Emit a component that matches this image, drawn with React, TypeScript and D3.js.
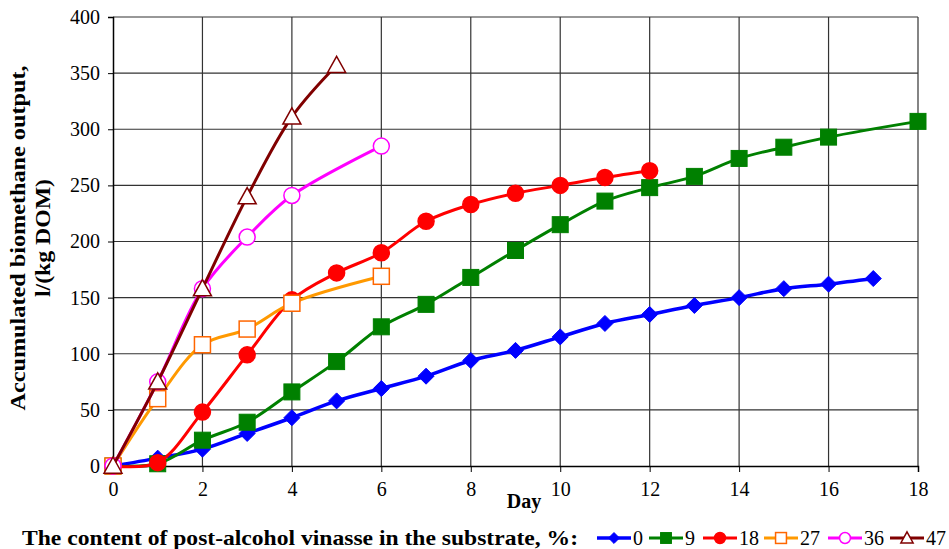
import * as d3 from 'd3'
import React, { useRef, useEffect } from 'react'

// values (day -> accumulated output)
const days0 = [0, 1, 2, 3, 4, 5, 6, 7, 8, 9, 10, 11, 12, 13, 14, 15, 16, 17]
const vals0 = [0, 7, 15, 29, 43, 58, 69, 80, 94, 103, 115, 127, 135, 143, 150, 158, 162, 167]
const days9 = [0, 1, 2, 3, 4, 5, 6, 7, 8, 9, 10, 11, 12, 13, 14, 15, 16, 18]
const vals9 = [0, 2, 23, 39, 66, 93, 124, 144, 168, 192, 215, 236, 248, 258, 274, 284, 293, 307]
const days18 = [0, 1, 2, 3, 4, 5, 6, 7, 8, 9, 10, 11, 12]
const vals18 = [0, 3, 48, 99, 148, 172, 190, 218, 233, 243, 250, 257, 263]
const days27 = [0, 1, 2, 3, 4, 6]
const vals27 = [0, 60, 108, 122, 145, 169]
const days36 = [0, 1, 2, 3, 4, 6]
const vals36 = [0, 75, 158, 204, 241, 285]
const days47 = [0, 1, 2, 3, 4, 5]
const vals47 = [0, 75, 158, 240, 311, 357]

const xTicks = [0, 2, 4, 6, 8, 10, 12, 14, 16, 18]
const yTicks = [0, 50, 100, 150, 200, 250, 300, 350, 400]

type Series = { name: string, days: number[], vals: number[], line: string, fill: string, stroke: string, shape: string, lw: number }

const series: Series[] = [
  { name: '0', days: days0, vals: vals0, line: '#0000ff', fill: '#0000ff', stroke: '#0000ff', shape: 'diamond', lw: 3.5 },
  { name: '9', days: days9, vals: vals9, line: '#008000', fill: '#008000', stroke: '#008000', shape: 'square', lw: 3 },
  { name: '18', days: days18, vals: vals18, line: '#ff0000', fill: '#ff0000', stroke: '#ff0000', shape: 'circle', lw: 3 },
  { name: '27', days: days27, vals: vals27, line: '#ff9900', fill: '#ffffff', stroke: '#ff6600', shape: 'square', lw: 3 },
  { name: '36', days: days36, vals: vals36, line: '#ff00ff', fill: '#ffffff', stroke: '#ff00ff', shape: 'circle', lw: 3 },
  { name: '47', days: days47, vals: vals47, line: '#800000', fill: '#ffffff', stroke: '#800000', shape: 'triangle', lw: 3 },
]

const W = 949
const H = 549
const serif = '"Liberation Serif", "DejaVu Serif", serif'

function marker(g: d3.Selection<SVGGElement, unknown, null, undefined>, s: Series, x: number, y: number, k = 1) {
  if (s.shape === 'diamond') {
    const r = 8 * k
    g.append('path').attr('d', `M${x},${y - r}L${x + r},${y}L${x},${y + r}L${x - r},${y}Z`)
      .attr('fill', s.fill).attr('stroke', s.stroke).attr('stroke-width', 1)
  } else if (s.shape === 'square') {
    const r = 8 * k
    g.append('rect').attr('x', x - r).attr('y', y - r).attr('width', 2 * r).attr('height', 2 * r)
      .attr('fill', s.fill).attr('stroke', s.stroke).attr('stroke-width', s.fill === '#ffffff' ? 1.5 : 1)
  } else if (s.shape === 'circle') {
    g.append('circle').attr('cx', x).attr('cy', y).attr('r', 8 * k)
      .attr('fill', s.fill).attr('stroke', s.stroke).attr('stroke-width', 1.5)
  } else {
    const r = 9 * k
    g.append('path').attr('d', `M${x},${y - r}L${x + r},${y + r * 0.8}L${x - r},${y + r * 0.8}Z`)
      .attr('fill', s.fill).attr('stroke', s.stroke).attr('stroke-width', 1.5)
  }
}

export default function App() {
  const svgRef = useRef(null)

  useEffect(() => {
    const svg = d3.select(svgRef.current)
    svg.selectAll('*').remove()

    const x = d3.scaleLinear().domain([0, 18]).range([113, 918])
    const y = d3.scaleLinear().domain([0, 400]).range([466, 17])

    const grid = svg.append('g')
    grid.selectAll('line.v').data(xTicks.slice(1)).join('line')
      .attr('x1', (d) => x(d)).attr('x2', (d) => x(d)).attr('y1', y(0)).attr('y2', y(400))
      .attr('stroke', '#333').attr('stroke-width', 1.2)
    grid.selectAll('line.h').data(yTicks.slice(1)).join('line')
      .attr('x1', x(0)).attr('x2', x(18)).attr('y1', (d) => y(d)).attr('y2', (d) => y(d))
      .attr('stroke', '#333').attr('stroke-width', 1.2)

    const yAxis = svg.append('g').attr('transform', `translate(${x(0)},0)`)
      .call(d3.axisLeft(y).tickValues(yTicks).tickSize(5).tickPadding(8))
    const xAxis = svg.append('g').attr('transform', `translate(0,${y(0)})`)
      .call(d3.axisBottom(x).tickValues(xTicks).tickSize(6).tickPadding(10))
    for (const a of [xAxis, yAxis]) {
      a.select('.domain').attr('stroke', '#000').attr('stroke-width', 1.5)
      a.selectAll('.tick line').attr('stroke', '#000')
      a.selectAll('text').attr('font-family', serif).attr('font-size', 20).attr('fill', '#000')
    }

    const line = d3.line<[number, number]>()
      .x((d) => x(d[0])).y((d) => y(d[1]))
      .curve(d3.curveCatmullRom.alpha(0.5))

    for (const s of series) {
      const g = svg.append('g')
      const pts: [number, number][] = s.days.map((d, i) => [d, s.vals[i]])
      g.append('path').attr('d', line(pts)).attr('fill', 'none')
        .attr('stroke', s.line).attr('stroke-width', s.lw)
      pts.forEach((p) => marker(g, s, x(p[0]), y(p[1])))
    }

    svg.append('text').text('Day').attr('x', 524).attr('y', 508)
      .attr('text-anchor', 'middle').attr('font-family', serif)
      .attr('font-weight', 'bold').attr('font-size', 20)

    const yt = svg.append('text').attr('transform', 'translate(25,238) rotate(-90)')
      .attr('text-anchor', 'middle').attr('font-family', serif)
      .attr('font-weight', 'bold').attr('font-size', 22)
    yt.append('tspan').attr('x', 0).attr('dy', 0).attr('textLength', 345)
      .attr('lengthAdjust', 'spacingAndGlyphs').text('Accumulated biomethane output,')
    yt.append('tspan').attr('x', 0).attr('dy', 25).attr('textLength', 118)
      .attr('lengthAdjust', 'spacingAndGlyphs').text('l/(kg DOM)')

    const ly = 538
    svg.append('text').text('The content of post-alcohol vinasse in the substrate, %:')
      .attr('x', 22).attr('y', ly + 7).attr('font-family', serif)
      .attr('font-weight', 'bold').attr('font-size', 21)
      .attr('textLength', 556).attr('lengthAdjust', 'spacingAndGlyphs')
    const legX = [597, 649, 703, 764, 828, 890]
    series.forEach((s, i) => {
      const g = svg.append('g')
      const x0 = legX[i]
      g.append('line').attr('x1', x0).attr('x2', x0 + 34).attr('y1', ly).attr('y2', ly)
        .attr('stroke', s.line).attr('stroke-width', s.lw)
      marker(g, s, x0 + 17, ly, 0.68)
      g.append('text').text(s.name).attr('x', x0 + 36).attr('y', ly + 7)
        .attr('font-family', serif).attr('font-size', 20)
    })
  }, [])

  return <svg ref={svgRef} width={W} height={H} style={{ position: 'absolute', left: 0, top: 0 }} />
}
